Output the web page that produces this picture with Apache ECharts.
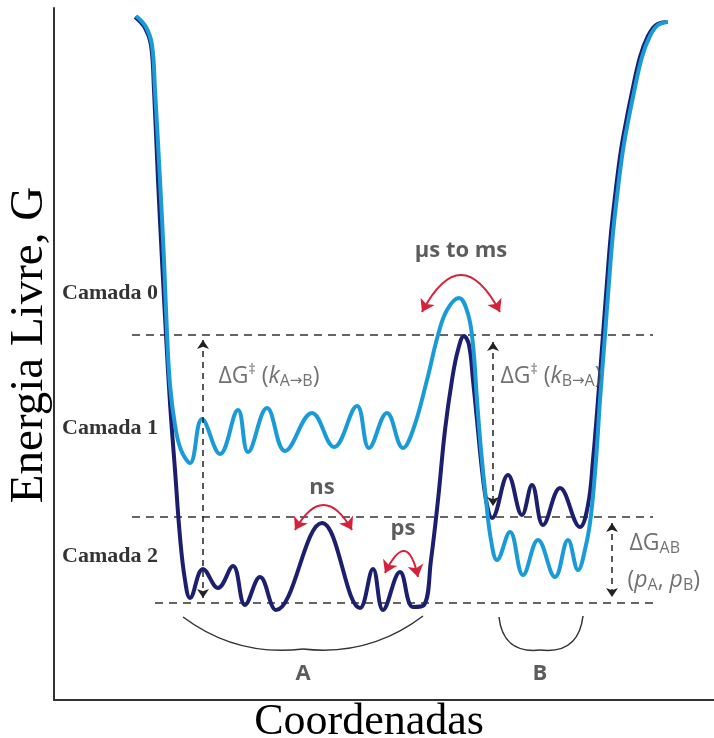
<!DOCTYPE html>
<html>
<head>
<meta charset="utf-8">
<script src="https://cdn.jsdelivr.net/npm/echarts@6/dist/echarts.min.js"></script>
<style>
  html, body { margin: 0; padding: 0; background: #fff; }
  #chart { width: 714px; height: 738px; }
</style>
</head>
<body>
<div id="chart"></div>
<script>
// curves: [coordinate, free energy G]
const upperState = [
  [136, 684], [146, 673], [152, 655], [155, 610], [160, 520], [164, 440], [167, 367], [170, 315],
  [175, 275], [181, 250], [190, 237], [202, 281], [220, 246], [238, 290], [248, 248], [267, 292],
  [285, 249], [312, 287], [334, 253], [357, 294], [369, 252], [387, 287], [403, 252], [413, 270],
  [427, 320], [438, 365], [447, 390], [459, 402], [468, 386], [473, 355], [477, 300], [481, 250],
  [486, 200], [491, 160], [497, 140], [510, 168], [523, 125], [538, 160], [555, 123], [568, 160],
  [578, 130], [586, 155], [591, 185], [596, 240], [600, 300], [605, 365], [609, 418], [613, 467],
  [618, 512], [623, 550], [628, 578], [633, 603], [642, 643], [650, 664], [658, 675], [668, 678]
];
const lowerState = [
  [135, 683], [145, 672], [151, 655], [154, 610], [158, 520], [162, 440], [166, 365], [170, 297],
  [175, 230], [180, 163], [185, 120], [190, 102], [203, 131], [218, 112], [233, 134], [245, 95],
  [260, 123], [276, 90], [322, 177], [360, 92], [373, 131], [383, 90],
  [400, 128], [413, 93], [424, 95], [431, 140], [438, 200], [445, 270], [452, 320], [458, 350],
  [464, 364], [469, 355], [473, 320], [477, 280], [482, 230], [487, 195], [492, 182], [508, 225],
  [522, 185], [532, 215], [543, 175], [560, 212], [580, 173], [588, 195], [593, 240], [598, 300],
  [603, 365], [607, 418], [611, 467], [616, 512], [621, 550], [626, 578], [631, 603], [640, 643],
  [648, 664], [656, 675], [666, 678]
];

// reference levels
const levelG = [365, 183, 97];
const levelFrom = [132, 132, 155];
const levelTo = [653, 653, 653];

// barrier arrows: x, G from, G to
const barrierArrows = [[203, 360, 102], [493, 358, 194], [612, 177, 103]];

// exchange arrows: start, end
const rateFrom = [[422, 388], [295, 170], [385, 127]];
const rateTo = [[500, 388], [352, 170], [418, 123]];
const rateBend = [0.95, 0.88, 1.45];

// basin braces: left end, middle, right end
const braceA = [[183, 83], [303, 51], [423, 84]];
const braceB = [[499, 83], [540, 50], [583, 84]];
const braceBend = [-0.2, -0.5];

const layerNames = ['Camada 0', 'Camada 1', 'Camada 2'];
const layerAt = [[110, 407], [110, 272], [110, 144]];
const timescales = ['µs to ms', 'ns', 'ps'];
const timescaleAt = [[461, 449], [322, 212], [403, 171]];
const basins = ['A', 'B'];
const basinAt = [[303, 26], [540, 26]];
const deltaTexts = [
  '{n|ΔG}{sup|‡}{n| (}{i|k}{sub|A}{arr|→}{sub|B}{n|)}',
  '{n|ΔG}{sup|‡}{n| (}{i|k}{sub|B}{arr|→}{sub|A}{n|)}',
  '{n|ΔG}{sub|AB}',
  '{n|(}{i|p}{sub|A}{n|, }{i|p}{sub|B}{n|)}'
];
const deltaAt = [[218, 324], [500, 324], [629, 157], [627, 120]];

const serif = "'Liberation Serif', 'Times New Roman', serif";
const sans = "'Open Sans', 'Noto Sans', sans-serif";
const grey = '#4d4d4d';
const red = '#d7213b';

const chart = echarts.init(document.getElementById('chart'));

const richDelta = {
  n: { fontFamily: sans, fontSize: 23, color: grey, lineHeight: 26 },
  i: { fontFamily: sans, fontSize: 23, color: grey, lineHeight: 26, fontStyle: 'italic' },
  sup: { fontFamily: sans, fontSize: 14, color: grey, lineHeight: 16, verticalAlign: 'top' },
  sub: { fontFamily: sans, fontSize: 16, color: grey, lineHeight: 10, verticalAlign: 'bottom' },
  arr: { fontFamily: "'DejaVu Sans', sans-serif", fontSize: 15, color: grey, lineHeight: 10, verticalAlign: 'bottom' }
};

const textData = [];
layerNames.forEach((t, i) => textData.push({
  value: layerAt[i],
  label: { formatter: t, position: 'inside', fontFamily: serif, fontWeight: 'bold', fontSize: 22, color: '#000' }
}));
timescales.forEach((t, i) => textData.push({
  value: timescaleAt[i],
  label: { formatter: t, position: 'inside', fontFamily: sans, fontWeight: 'bold', fontSize: 22, color: '#333' }
}));
basins.forEach((t, i) => textData.push({
  value: basinAt[i],
  label: { formatter: t, position: 'inside', fontFamily: sans, fontWeight: 'bold', fontSize: 22, color: '#333' }
}));
deltaTexts.forEach((t, i) => textData.push({
  value: deltaAt[i],
  label: { formatter: t, position: 'right', distance: 0, rich: richDelta }
}));

const levelSeries = levelG.map((g, i) => ({
  type: 'line',
  data: [[levelFrom[i], g], [levelTo[i], g]],
  symbol: 'none',
  lineStyle: { color: '#333', width: 1.5, type: [8, 6] },
  z: 1
}));

const braceData = [];
[braceA, braceB].forEach((b, i) => {
  braceData.push({ coords: [b[0], b[1]], lineStyle: { curveness: braceBend[i] } });
  braceData.push({ coords: [b[1], b[2]], lineStyle: { curveness: braceBend[i] } });
});

const option = {
  animation: false,
  grid: { left: 54, right: 0, top: 8, bottom: 38, outerBoundsMode: 'none', containLabel: false },
  xAxis: {
    type: 'value', min: 54, max: 714,
    axisLine: { lineStyle: { color: '#333', width: 2 } },
    axisTick: { show: false }, axisLabel: { show: false }, splitLine: { show: false },
    name: 'Coordenadas', nameLocation: 'middle', nameGap: 0,
    nameTextStyle: { fontFamily: serif, fontSize: 44, color: '#000', padding: [0, 30, 0, 0] }
  },
  yAxis: {
    type: 'value', min: 0, max: 692,
    axisLine: { lineStyle: { color: '#333', width: 2 } },
    axisTick: { show: false }, axisLabel: { show: false }, splitLine: { show: false },
    name: 'Energia Livre, G', nameLocation: 'middle', nameGap: 1, nameRotate: 90,
    nameTextStyle: { fontFamily: serif, fontSize: 47, color: '#000', padding: [0, 0, 0, 18] }
  },
  series: [
    ...levelSeries,
    {
      type: 'line', data: lowerState, smooth: 0.4, symbol: 'none',
      lineStyle: { color: '#1c1f6e', width: 4 }, z: 3
    },
    {
      type: 'line', data: upperState, smooth: 0.4, symbol: 'none',
      lineStyle: { color: '#1a9bd7', width: 4 }, z: 4
    },
    {
      type: 'lines', coordinateSystem: 'cartesian2d', z: 2, silent: true,
      symbol: 'none',
      lineStyle: { color: '#333', width: 1.5, opacity: 1 },
      data: braceData
    },
    {
      type: 'line', data: [], z: 5,
      markLine: {
        silent: true, animation: false,
        symbol: ['arrow', 'arrow'], symbolSize: 9,
        label: { show: false },
        lineStyle: { color: '#222', width: 1.5, type: [6, 5] },
        data: barrierArrows.map(a => [{ coord: [a[0], a[1]] }, { coord: [a[0], a[2]] }])
      }
    },
    {
      type: 'lines', coordinateSystem: 'cartesian2d', z: 6, silent: true,
      symbol: ['arrow', 'arrow'], symbolSize: 12,
      lineStyle: { color: red, width: 2, opacity: 1 },
      data: rateFrom.map((p, i) => ({ coords: [p, rateTo[i]], lineStyle: { curveness: rateBend[i] } }))
    },
    {
      type: 'scatter', data: textData, symbolSize: 1, z: 7,
      itemStyle: { color: 'rgba(0,0,0,0)' },
      label: { show: true }
    }
  ]
};

chart.setOption(option);
</script>
</body>
</html>
